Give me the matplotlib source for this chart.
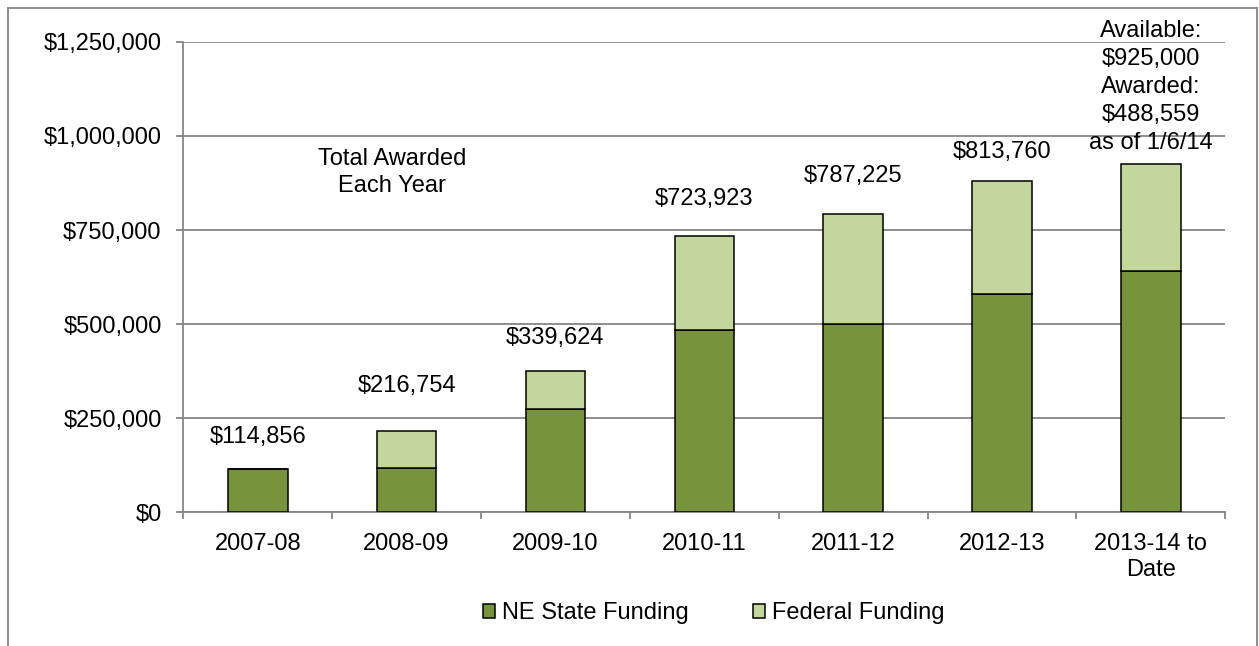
import matplotlib
matplotlib.use("Agg")
import matplotlib.pyplot as plt
from matplotlib.lines import Line2D
import numpy as np

plt.rcParams["font.family"] = ["Liberation Sans", "DejaVu Sans"]

# Data
years = ["2007-08", "2008-09", "2009-10", "2010-11", "2011-12", "2012-13", "2013-14 to\nDate"]
state_funding = [116000, 118000, 275000, 485000, 500000, 580000, 640000]
federal_funding = [0, 99000, 101000, 250000, 293000, 301000, 285000]
awarded_labels = ["$114,856", "$216,754", "$339,624", "$723,923", "$787,225", "$813,760",
                  "Available:\n$925,000\nAwarded:\n$488,559\nas of 1/6/14"]
# vertical offset (points) of each label above its bar
label_dy = [22.7, 32.1, 24, 26.6, 27.1, 20.5, 55.4]

dark_green = "#77933C"
light_green = "#C3D69B"
grid_gray = "#868686"
fs = 17

fig = plt.figure(figsize=(12.59, 6.46), dpi=100)
ax = fig.add_axes([0.1456, 0.2067, 0.9732 - 0.1456, 0.9354 - 0.2067])

x = np.arange(len(years))
state = np.array(state_funding)
federal = np.array(federal_funding)
ax.bar(x, state, width=0.40, color=dark_green, edgecolor="black", linewidth=1.1,
       label="NE State Funding", zorder=3)
ax.bar(x, federal, width=0.40, bottom=state, color=light_green, edgecolor="black",
       linewidth=1.1, label="Federal Funding", zorder=3)

totals = state + federal
for i, (lbl, dy) in enumerate(zip(awarded_labels, label_dy)):
    ax.annotate(lbl, (x[i], totals[i]), xytext=(0, dy), textcoords="offset points",
                ha="center", va="center", fontsize=fs, linespacing=1.35)

ax.text(0.9, 902500, "Total Awarded\nEach Year", ha="center", va="center",
        fontsize=fs, linespacing=1.28)

# axes styling
ax.set_xlim(-0.5, len(years) - 0.5)
ax.set_ylim(0, 1250000)
ax.set_yticks(np.arange(0, 1250001, 250000))
ax.yaxis.set_major_formatter(lambda v, pos: f"${v:,.0f}")
ax.yaxis.grid(True, color=grid_gray, linewidth=1.3, zorder=0)
ax.set_axisbelow(True)

ax.set_xticks(np.arange(-0.5, len(years), 1.0))
ax.set_xticklabels([])
ax.set_xticks(x, minor=True)
ax.set_xticklabels(years, minor=True)
ax.tick_params(axis="x", which="major", length=5, width=1.3, color=grid_gray, direction="out")
ax.tick_params(axis="x", which="minor", length=0, pad=15, labelsize=fs)
ax.tick_params(axis="y", length=4.8, width=1.3, color=grid_gray, pad=10.8, labelsize=fs)

for side in ["top", "right"]:
    ax.spines[side].set_visible(False)
for side in ["left", "bottom"]:
    ax.spines[side].set_color(grid_gray)
    ax.spines[side].set_linewidth(1.3)

leg = fig.legend(loc="center", bbox_to_anchor=(0.567, 0.051), ncol=2, frameon=False,
                 fontsize=fs, handlelength=0.52, handleheight=0.52, handletextpad=0.3,
                 columnspacing=2.7, borderpad=0)
for h in leg.legend_handles:
    h.set_linewidth(1.1)

# chart border
W, H = 1259, 646
bx0, bx1, by = 8 / W, 1256.5 / W, 1 - 7.5 / H
for xs, ys in [([bx0, bx0], [by, -0.05]), ([bx0, bx1], [by, by]), ([bx1, bx1], [by, -0.05])]:
    fig.add_artist(Line2D(xs, ys, color=grid_gray, linewidth=1.3, transform=fig.transFigure))

fig.savefig("out.png", dpi=100)
